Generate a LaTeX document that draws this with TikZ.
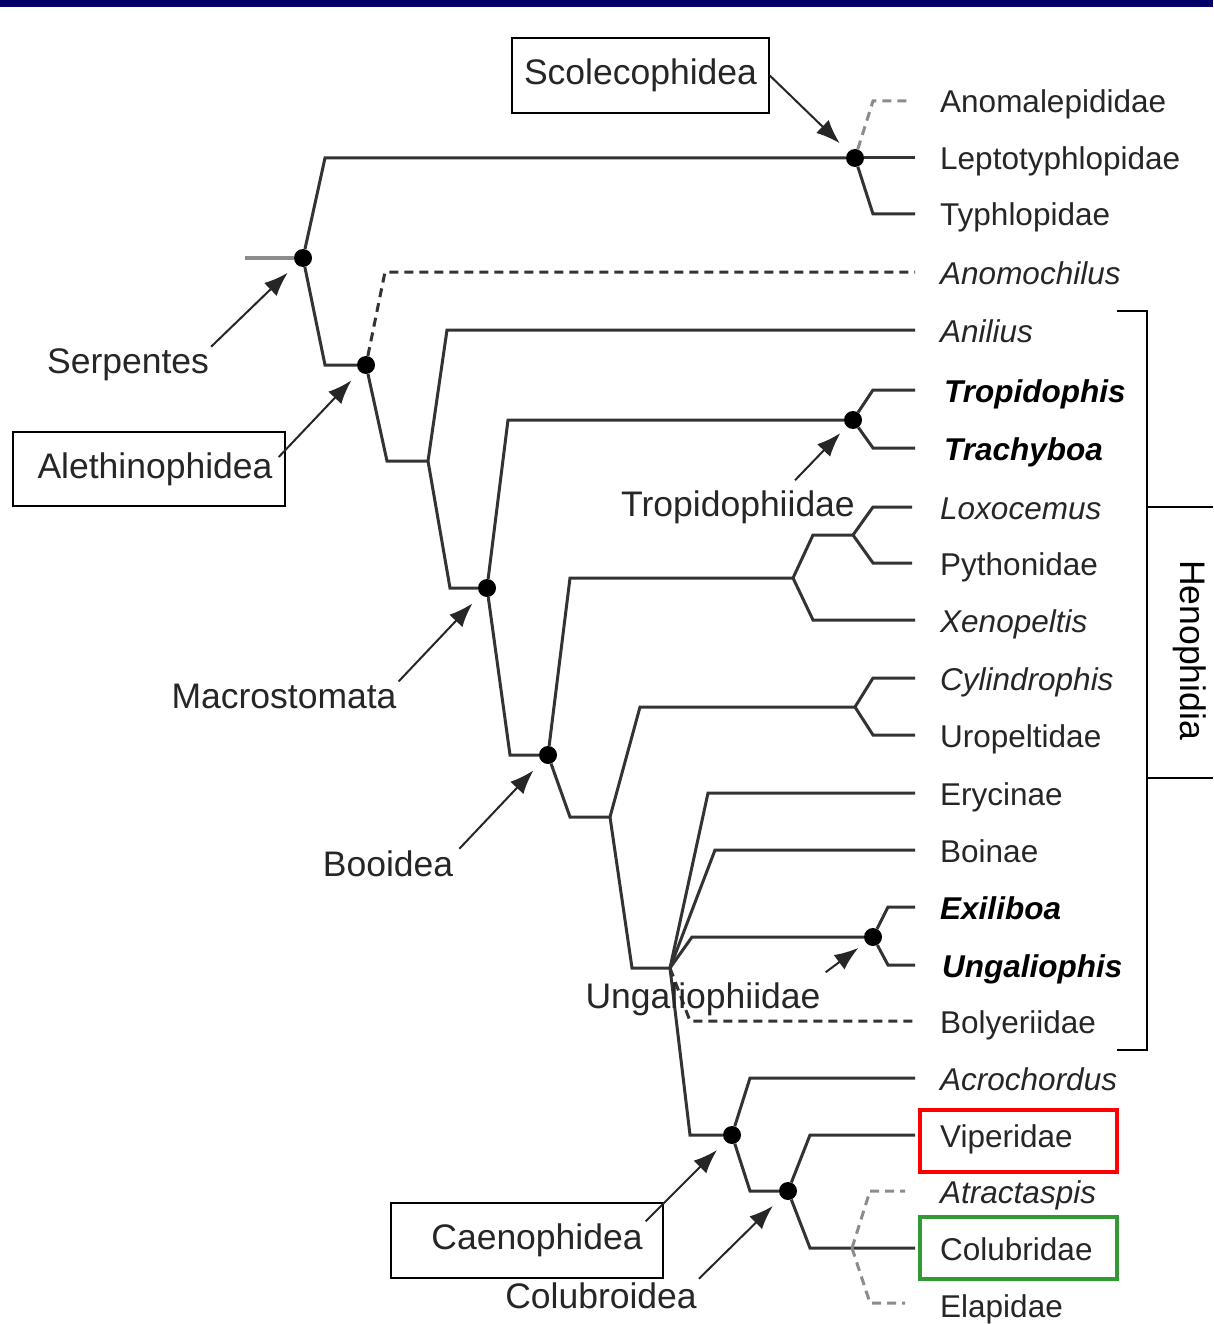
\documentclass[tikz,border=0pt]{standalone}
\usepackage{fontspec}
\setmainfont{Liberation Sans}
\usetikzlibrary{arrows.meta}
\definecolor{navy}{HTML}{000066}
\definecolor{boxgreen}{HTML}{339933}
\begin{document}
\begin{tikzpicture}[x=1pt,y=-1pt,
  br/.style={line width=3pt, draw=black!80},
  dbr/.style={br, dash pattern=on 9pt off 6pt},
  gbr/.style={dbr, draw=black!45},
  dotn/.style={circle, fill=black, inner sep=0pt, minimum size=18pt},
  tax/.style={anchor=base west, inner sep=0pt, text=black!85, font=\fontsize{31.5}{32}\selectfont},
  itax/.style={tax, font=\fontsize{31.5}{32}\selectfont\itshape},
  btax/.style={tax, text=black, font=\fontsize{31.5}{32}\selectfont\bfseries\itshape},
  clade/.style={inner sep=0pt, text=black!85, font=\fontsize{35.5}{36}\selectfont},
  cbox/.style={clade, draw=black, line width=1.5pt},
  arr/.style={-{Latex[length=24pt,width=18pt]}, line width=2pt, draw=black!85, shorten >=12pt},
]
\fill[white] (0,0) rectangle (1213,1324);
\useasboundingbox (0,0) rectangle (1213,1324);
\fill[navy] (0,0) rectangle (1213,7);

% ---------- internal nodes ----------
\coordinate (root) at (245,258);
\node[dotn] (serp) at (303,258) {};
\node[dotn] (scol) at (855,158) {};
\node[dotn] (aleth) at (366,365) {};
\coordinate (n1) at (428,461);
\node[dotn] (macro) at (487,588) {};
\node[dotn] (trop) at (853,420) {};
\node[dotn] (boo) at (548,755) {};
\coordinate (py) at (793,578);
\coordinate (py2) at (853,535);
\coordinate (n2) at (610,817);
\coordinate (cyl) at (855,707);
\coordinate (ung) at (670,968);
\node[dotn] (ungal) at (873,937) {};
\node[dotn] (caen) at (732,1135) {};
\node[dotn] (colub) at (788,1191) {};
\coordinate (col2) at (852,1248);

% ---------- tips ----------
\coordinate (tAnomal) at (912,101);
\coordinate (tLepto) at (915,158);
\coordinate (tTyph) at (915,214);
\coordinate (tAnomo) at (915,272);
\coordinate (tAnil) at (915,330);
\coordinate (tTropi) at (915,390);
\coordinate (tTrach) at (915,448);
\coordinate (tLoxo) at (912,507);
\coordinate (tPyth) at (912,563);
\coordinate (tXeno) at (915,620);
\coordinate (tCyl) at (915,678);
\coordinate (tUro) at (915,735);
\coordinate (tEry) at (915,793);
\coordinate (tBoi) at (915,850);
\coordinate (tExi) at (915,907);
\coordinate (tUng) at (915,965);
\coordinate (tBoly) at (915,1021);
\coordinate (tAcro) at (915,1078);
\coordinate (tVip) at (915,1135);
\coordinate (tAtr) at (905,1191);
\coordinate (tColu) at (915,1248);
\coordinate (tElap) at (905,1303);

% ---------- branches ----------
\draw[br, draw=black!45] (root) -- (serp);
\draw[br] (serp) -- ([xshift=22pt]serp.center |- scol) -- (scol);
\draw[br] (serp) -- ([xshift=22pt]serp.center |- aleth) -- (aleth);
\draw[br] (scol) -- (tLepto);
\draw[gbr] (scol) -- ([xshift=18pt]scol.center |- tAnomal) -- (tAnomal);
\draw[br] (scol) -- ([xshift=18pt]scol.center |- tTyph) -- (tTyph);
\draw[dbr] (aleth) -- ([xshift=19pt]aleth.center |- tAnomo) -- (tAnomo);
\draw[br] (aleth) -- ([xshift=21pt]aleth.center |- n1) -- (n1);
\draw[br] (n1) -- ([xshift=19pt]n1 |- tAnil) -- (tAnil);
\draw[br] (n1) -- ([xshift=22pt]n1 |- macro) -- (macro);
\draw[br] (macro) -- ([xshift=21pt]macro.center |- trop) -- (trop);
\draw[br] (macro) -- ([xshift=23pt]macro.center |- boo) -- (boo);
\draw[br] (trop) -- ([xshift=20pt]trop.center |- tTropi) -- (tTropi);
\draw[br] (trop) -- ([xshift=20pt]trop.center |- tTrach) -- (tTrach);
\draw[br] (boo) -- ([xshift=22pt]boo.center |- py) -- (py);
\draw[br] (boo) -- ([xshift=22pt]boo.center |- n2) -- (n2);
\draw[br] (py) -- ([xshift=20pt]py |- py2) -- (py2);
\draw[br] (py) -- ([xshift=20pt]py |- tXeno) -- (tXeno);
\draw[br] (py2) -- ([xshift=20pt]py2 |- tLoxo) -- (tLoxo);
\draw[br] (py2) -- ([xshift=20pt]py2 |- tPyth) -- (tPyth);
\draw[br] (n2) -- ([xshift=30pt]n2 |- cyl) -- (cyl);
\draw[br] (n2) -- ([xshift=22pt]n2 |- ung) -- (ung);
\draw[br] (cyl) -- ([xshift=18pt]cyl |- tCyl) -- (tCyl);
\draw[br] (cyl) -- ([xshift=18pt]cyl |- tUro) -- (tUro);
\draw[br] (ung) -- ([xshift=38pt]ung |- tEry) -- (tEry);
\draw[br] (ung) -- ([xshift=45pt]ung |- tBoi) -- (tBoi);
\draw[br] (ung) -- ([xshift=22pt]ung |- ungal) -- (ungal);
\draw[dbr] (ung) -- ([xshift=20pt]ung |- tBoly) -- (tBoly);
\draw[br] (ung) -- ([xshift=20pt]ung |- caen) -- (caen);
\draw[br] (ungal) -- ([xshift=15pt]ungal.center |- tExi) -- (tExi);
\draw[br] (ungal) -- ([xshift=15pt]ungal.center |- tUng) -- (tUng);
\draw[br] (caen) -- ([xshift=18pt]caen.center |- tAcro) -- (tAcro);
\draw[br] (caen) -- ([xshift=18pt]caen.center |- colub) -- (colub);
\draw[br] (colub) -- ([xshift=22pt]colub.center |- tVip) -- (tVip);
\draw[br] (colub) -- ([xshift=22pt]colub.center |- tColu) -- (tColu);
\draw[gbr] (col2) -- ([xshift=18pt]col2 |- tAtr) -- (tAtr);
\draw[gbr] (col2) -- ([xshift=18pt]col2 |- tElap) -- (tElap);

% ---------- taxon labels ----------
\node[tax]  (lAnomal) at (940,113) {Anomalepididae};
\node[tax]  (lLepto)  at (940,170) {Leptotyphlopidae};
\node[tax]  (lTyph)   at (940,226) {Typhlopidae};
\node[itax] (lAnomo)  at (940,284) {Anomochilus};
\node[itax] (lAnil)   at (940,342) {Anilius};
\node[btax] (lTropi)  at (944,402) {Tropidophis};
\node[btax] (lTrach)  at (944,460) {Trachyboa};
\node[itax] (lLoxo)   at (940,519) {Loxocemus};
\node[tax]  (lPyth)   at (940,575) {Pythonidae};
\node[itax] (lXeno)   at (940,632) {Xenopeltis};
\node[itax] (lCyl)    at (940,690) {Cylindrophis};
\node[tax]  (lUro)    at (940,747) {Uropeltidae};
\node[tax]  (lEry)    at (940,805) {Erycinae};
\node[tax]  (lBoi)    at (940,862) {Boinae};
\node[btax] (lExi)    at (940,919) {Exiliboa};
\node[btax] (lUng)    at (942,977) {Ungaliophis};
\node[tax]  (lBoly)   at (940,1033) {Bolyeriidae};
\node[itax] (lAcro)   at (940,1090) {Acrochordus};
\node[tax]  (lVip)    at (940,1147) {Viperidae};
\node[itax] (lAtr)    at (940,1203) {Atractaspis};
\node[tax]  (lColu)   at (940,1260) {Colubridae};
\node[tax]  (lElap)   at (940,1317) {Elapidae};

\draw[red, line width=4pt] (920,1110) rectangle (1117,1172);
\draw[boxgreen, line width=4pt] (920,1217) rectangle (1117,1279);

% ---------- Henophidia bracket ----------
\draw[line width=2pt] (1117,311) -| (1147,1050) -- (1117,1050);
\draw[line width=2pt] (1147,507) -- (1213,507);
\draw[line width=2pt] (1147,778) -- (1213,778);
\node[clade, text=black, rotate=-90] (heno) at (1190,650) {Henophidia};

% ---------- clade labels ----------
\node[cbox, minimum width=257pt, minimum height=75pt] (scolab) at (640.5,75.5) {\raisebox{5pt}{Scolecophidea}};
\node[cbox, minimum width=272pt, minimum height=74pt] (alethlab) at (149,469) {\hspace*{12pt}\raisebox{-3pt}{Alethinophidea}};
\node[cbox, minimum width=272pt, minimum height=75pt] (caenlab) at (527,1240.5) {\hspace*{20pt}\raisebox{-2pt}{Caenophidea}};
\node[clade] (serplab) at (128,365) {Serpentes};
\node[clade] (macrolab) at (284,696) {Macrostomata};
\node[clade] (boolab) at (388,864) {Booidea};
\node[clade] (troplab) at (738,507) {Tropidophiidae};
\node[clade] (ungallab) at (703,999) {Ungaliophiidae};
\node[clade] (colublab) at (601,1296) {Colubroidea};

% ---------- arrows ----------
\draw[arr] (scolab.east) -- (scol);
\draw[arr] ([shift={(2,-2)}]serplab.north east) -- (serp);
\draw[arr] ([shift={(-7,-12)}]alethlab.east) -- (aleth);
\draw[arr] ([shift={(2,-2)}]macrolab.north east) -- (macro);
\draw[arr] ([shift={(6,-2)}]boolab.north east) -- (boo);
\draw[arr, shorten >=9pt] ([shift={(57,-10)}]troplab.north) -- (trop);
\draw[arr, shorten >=9pt] ([shift={(5,-10)}]ungallab.north east) -- (ungal);
\draw[arr] ([shift={(-18,19)}]caenlab.north east) -- (caen);
\draw[arr] ([shift={(2,-4)}]colublab.north east) -- (colub);
\end{tikzpicture}
\end{document}
